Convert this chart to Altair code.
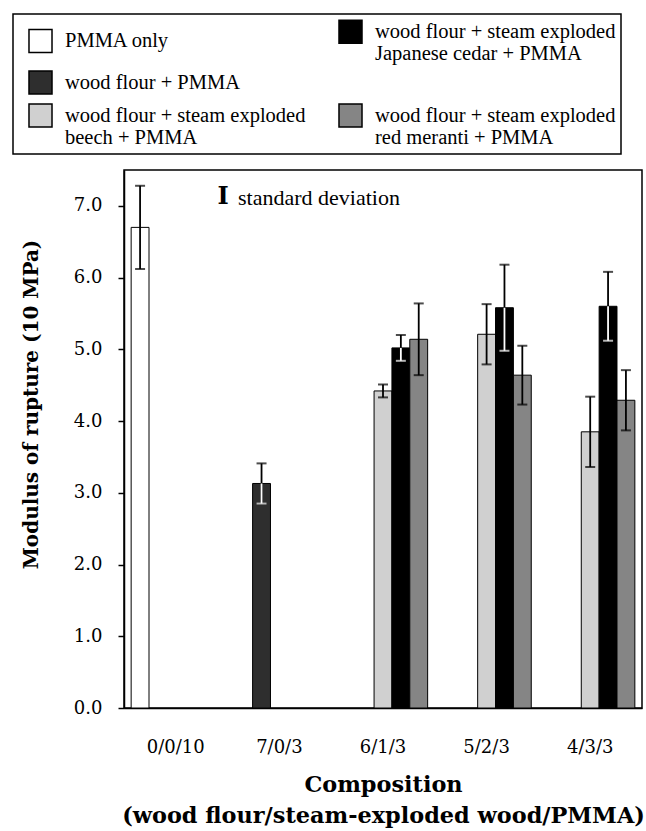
import altair as alt
import pandas as pd

categories = ["0/0/10", "7/0/3", "6/1/3", "5/2/3", "4/3/3"]
series_order = [
    "PMMA only",
    "wood flour + PMMA",
    "wood flour + steam exploded|beech + PMMA",
    "wood flour + steam exploded|Japanese cedar + PMMA",
    "wood flour + steam exploded|red meranti + PMMA",
]
series_fills = ["#ffffff", "#2e2e2e", "#d0d0d0", "#000000", "#858585"]

# legend layout: column-major, 3 rows per column; a blank spacer entry
# keeps "red meranti" on the third row as in the original
SPACER = "\u00a0"
legend_domain = series_order[:4] + [SPACER, series_order[4]]
legend_range = series_fills[:4] + ["#ffffff", series_fills[4]]
legend_stroke = ["#000000", "#000000", "#000000", "#000000", "#ffffff", "#000000"]

bar_comp = ["0/0/10", "7/0/3", "6/1/3", "5/2/3", "4/3/3", "6/1/3", "5/2/3", "4/3/3", "6/1/3", "5/2/3", "4/3/3"]
bar_series = [0, 1, 2, 2, 2, 3, 3, 3, 4, 4, 4]
bar_mean = [6.70, 3.13, 4.42, 5.21, 3.85, 5.02, 5.58, 5.60, 5.14, 4.64, 4.29]
bar_sd = [0.58, 0.28, 0.09, 0.42, 0.49, 0.18, 0.60, 0.48, 0.50, 0.41, 0.42]
dark_series = [series_order[1], series_order[3]]

y_ticks = [0, 1, 2, 3, 4, 5, 6, 7]
note_glyph = ["I"]
note_text = ["standard deviation"]

df = pd.DataFrame({
    "comp": bar_comp,
    "series": [series_order[i] for i in bar_series],
    "mean": bar_mean,
    "sd": bar_sd,
})
df["lo"] = df["mean"] - df["sd"]
df["hi"] = df["mean"] + df["sd"]

SERIF = "DejaVu Serif"
TIMES = "Liberation Serif, Times New Roman, Times, serif"

x_enc = alt.X(
    "comp:N", sort=categories,
    scale=alt.Scale(domain=categories, paddingInner=0, paddingOuter=0),
    axis=alt.Axis(
        title=["Composition", "(wood flour/steam-exploded wood/PMMA)"],
        labelAngle=0, ticks=False, labelPadding=30,
        labelFont=SERIF, labelFontSize=18, labelColor="black",
        titleFont=SERIF, titleFontWeight="bold", titleFontSize=22.4,
        titleColor="black", titlePadding=17, titleLineHeight=31,
        domainColor="black", domainWidth=1.5,
    ),
)
xo_enc = alt.XOffset(
    "series:N", sort=series_order,
    scale=alt.Scale(domain=series_order, paddingInner=0, paddingOuter=0.4),
)
y_scale = alt.Scale(domain=[0, 7.5], nice=False)


def make_legend():
    return alt.Legend(
        title=None, orient="none", legendX=-111, legendY=-156,
        columns=2, columnPadding=22, rowPadding=2,
        symbolType="square", symbolSize=530,
        symbolStrokeWidth=1.5, symbolOffset=10,
        labelExpr="split(datum.label, '|')",
        labelFont=TIMES, labelFontSize=20.5, labelColor="black",
        labelOffset=12, labelLimit=420,
        strokeColor="black", padding=5, fillColor="white",
    )


base = alt.Chart(df).encode(x=x_enc, xOffset=xo_enc)

bars = base.mark_bar(strokeWidth=1).encode(
    y=alt.Y(
        "mean:Q", scale=y_scale,
        axis=alt.Axis(
            title="Modulus of rupture (10 MPa)", values=y_ticks, format=".1f",
            grid=False, tickSize=6, tickColor="black", tickWidth=1.5,
            labelFont=SERIF, labelFontSize=18, labelColor="black", labelPadding=16,
            titleFont=SERIF, titleFontWeight="bold", titleFontSize=20,
            titleColor="black", titleX=-83, titleY=234,
            domainColor="black", domainWidth=1.5,
        ),
    ),
    color=alt.Color(
        "series:N",
        scale=alt.Scale(domain=legend_domain, range=legend_range),
        legend=make_legend(),
    ),
    stroke=alt.Stroke(
        "series:N",
        scale=alt.Scale(domain=legend_domain, range=legend_stroke),
        legend=make_legend(),
    ),
)

err = base.mark_rule(color="black", strokeWidth=1.8).encode(
    y=alt.Y("lo:Q", scale=y_scale), y2="hi:Q"
)
cap_hi = base.mark_tick(color="black", size=10, thickness=2).encode(
    y=alt.Y("hi:Q", scale=y_scale)
)
cap_lo = base.mark_tick(color="black", size=10, thickness=2).encode(
    y=alt.Y("lo:Q", scale=y_scale)
)
dark = base.transform_filter(alt.FieldOneOfPredicate(field="series", oneOf=dark_series))
err_w = dark.mark_rule(color="white", strokeWidth=1.8).encode(
    y=alt.Y("lo:Q", scale=y_scale), y2="mean:Q"
)
cap_w = dark.mark_tick(color="white", size=10, thickness=2).encode(
    y=alt.Y("lo:Q", scale=y_scale)
)

glyph = alt.Chart(pd.DataFrame({"t": note_glyph})).mark_text(
    font=SERIF, fontWeight="bold", fontSize=24, align="center", baseline="middle", color="black"
).encode(text="t:N", x=alt.value(99), y=alt.value(27))
note = alt.Chart(pd.DataFrame({"t": note_text})).mark_text(
    font=TIMES, fontSize=22, align="left", baseline="middle", color="black"
).encode(text="t:N", x=alt.value(114), y=alt.value(28))

chart = alt.layer(bars, err, cap_hi, cap_lo, err_w, cap_w, glyph, note).properties(
    width=518, height=538,
    autosize=alt.AutoSizeParams(type="none"),
    padding={"left": 124, "top": 170, "right": 4, "bottom": 123},
).configure_view(stroke="black", strokeWidth=1.5).configure_legend(strokeWidth=1.5)

chart.save("out.html", embed_options={"renderer": "svg", "actions": False})
